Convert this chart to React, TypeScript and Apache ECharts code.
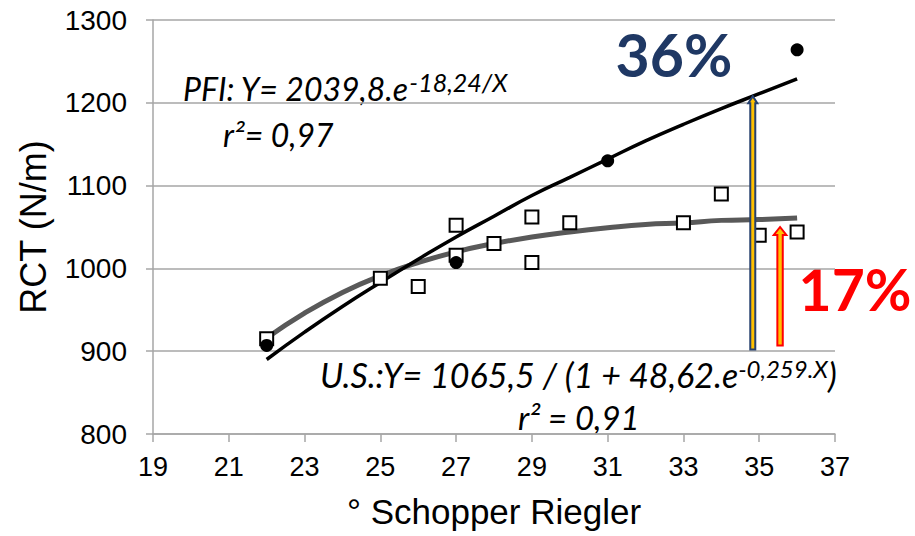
import React, { useEffect, useRef } from "react";
import * as echarts from "echarts";

// PFI measurements (filled circles)
const pfiX = [22, 27, 31, 36];
const pfiY = [907, 1007, 1130, 1264];

// U.S. measurements (open squares)
const usX = [22, 25, 26, 27, 27, 28, 29, 29, 30, 33, 34, 35, 36];
const usY = [915, 988, 978, 1052, 1016, 1030, 1062, 1007, 1055, 1055, 1090, 1040, 1044];

// Trend lines
const fitX = [22, 23, 24, 25, 26, 27, 28, 29, 30, 31, 32, 33, 34, 35, 36];
const pfiFit = [890, 923, 954, 983, 1011, 1038, 1063, 1088, 1110, 1132, 1154, 1174, 1193, 1211, 1229];
const usFit = [916, 946, 971, 991, 1007, 1020, 1030, 1038, 1044, 1049, 1053, 1055, 1058, 1059, 1061];

// Gain arrows
const arrowX = [34.83, 35.55];
const arrowFrom = [902, 907];
const arrowTo = [1208, 1050];
const arrowStroke = ["#26406E", "#FF0000"];
const arrowShaft = [2.5, 2.7];
const arrowHead = [4.5, 6.3];
const arrowHeadLen = [7, 8];

const gainLabels = ["36%", "17%"];

const GRID = "#A6A6A6";
const EQ_FONT = "Lato";

export default function App() {
  const ref = useRef<HTMLDivElement>(null);

  useEffect(() => {
    if (!ref.current) return;
    const chart = echarts.init(ref.current, undefined, { renderer: "svg" });

    const option: any = {
      animation: false,
      backgroundColor: "#ffffff",
      grid: { left: 153, right: 80, top: 20, bottom: 102, containLabel: false },
      xAxis: {
        type: "value",
        min: 19,
        max: 37,
        interval: 2,
        name: "° Schopper Riegler",
        nameLocation: "middle",
        nameGap: 60,
        nameTextStyle: { fontSize: 35, color: "#000", fontFamily: "Liberation Sans" },
        axisLine: { show: true, lineStyle: { color: GRID, width: 1.5 } },
        axisTick: { show: true, length: 8, lineStyle: { color: GRID, width: 1.5 } },
        axisLabel: { fontSize: 27, color: "#000", margin: 19, fontFamily: "Liberation Sans" },
        splitLine: { show: false },
      },
      yAxis: {
        type: "value",
        min: 800,
        max: 1300,
        interval: 100,
        name: "RCT (N/m)",
        nameLocation: "middle",
        nameGap: 102,
        nameTextStyle: { fontSize: 36, color: "#000", fontFamily: "Liberation Sans" },
        axisLine: { show: true, lineStyle: { color: GRID, width: 1.5 } },
        axisTick: { show: true, length: 7, lineStyle: { color: GRID, width: 1.5 } },
        axisLabel: {
          fontSize: 28,
          color: "#000",
          margin: 26,
          fontFamily: "Liberation Sans",
          formatter: (v: number) => String(v),
        },
        splitLine: { show: true, lineStyle: { color: GRID, width: 1.5 } },
      },
      series: [
        {
          type: "line",
          data: fitX.map((x, i) => [x, usFit[i]]),
          smooth: true,
          showSymbol: false,
          lineStyle: { color: "#595959", width: 5 },
          z: 2,
        },
        {
          type: "line",
          data: fitX.map((x, i) => [x, pfiFit[i]]),
          smooth: true,
          showSymbol: false,
          lineStyle: { color: "#000000", width: 3.5 },
          z: 2,
        },
        {
          type: "scatter",
          data: usX.map((x, i) => [x, usY[i]]),
          symbol: "rect",
          symbolSize: 13,
          itemStyle: { color: "#ffffff", borderColor: "#000000", borderWidth: 2, opacity: 1 },
          z: 3,
        },
        {
          type: "scatter",
          data: pfiX.map((x, i) => [x, pfiY[i]]),
          symbol: "circle",
          symbolSize: 13,
          itemStyle: { color: "#000000", opacity: 1 },
          z: 4,
        },
        {
          type: "custom",
          data: arrowX.map((x, i) => [x, arrowFrom[i], arrowTo[i], i]),
          encode: { x: 0, y: [1, 2] },
          clip: false,
          z: 5,
          renderItem: (params: any, api: any) => {
            const x = api.value(0);
            const k = api.value(3);
            const b = api.coord([x, api.value(1)]);
            const t = api.coord([x, api.value(2)]);
            const sw = arrowShaft[k];
            const hw = arrowHead[k];
            const hl = arrowHeadLen[k];
            const cx = b[0];
            const points = [
              [cx - sw, b[1]],
              [cx - sw, t[1] + hl],
              [cx - hw, t[1] + hl],
              [cx, t[1]],
              [cx + hw, t[1] + hl],
              [cx + sw, t[1] + hl],
              [cx + sw, b[1]],
            ];
            return {
              type: "polygon",
              shape: { points },
              style: { fill: "#FFC000", stroke: arrowStroke[k], lineWidth: 2 },
            };
          },
        },
      ],
      graphic: [
        {
          type: "text",
          x: 674,
          y: 54,
          style: {
            text: gainLabels[0],
            fontFamily: EQ_FONT,
            fontWeight: "bold",
            fontSize: 59,
            fill: "#1F3864",
            textAlign: "center",
            textVerticalAlign: "middle",
          },
        },
        {
          type: "text",
          x: 855,
          y: 289,
          style: {
            text: gainLabels[1],
            fontFamily: EQ_FONT,
            fontWeight: "bold",
            fontSize: 57,
            fill: "#FF0000",
            textAlign: "center",
            textVerticalAlign: "middle",
          },
        },
        {
          type: "text",
          x: 183,
          y: 69,
          style: {
            text: "{m|PFI: Y= 2039,8.e}{s|-18,24/X}",
            textAlign: "left",
            textVerticalAlign: "top",
            rich: {
              m: { fontFamily: EQ_FONT, fontStyle: "italic", fontSize: 32, lineHeight: 39, fill: "#000" },
              s: { fontFamily: EQ_FONT, fontStyle: "italic", fontSize: 25, lineHeight: 25, verticalAlign: "top", fill: "#000" },
            },
          },
        },
        {
          type: "text",
          x: 223,
          y: 134,
          style: {
            text: "r²= 0,97",
            fontFamily: EQ_FONT,
            fontStyle: "italic",
            fontSize: 32,
            fill: "#000",
            textAlign: "left",
            textVerticalAlign: "middle",
          },
        },
        {
          type: "text",
          x: 320,
          y: 356,
          style: {
            text: "{m|U.S.:Y= 1065,5 / (1 + 48,62.e}{s|-0,259.X}{m|)}",
            textAlign: "left",
            textVerticalAlign: "top",
            rich: {
              m: { fontFamily: EQ_FONT, fontStyle: "italic", fontSize: 34, lineHeight: 37, fill: "#000" },
              s: { fontFamily: EQ_FONT, fontStyle: "italic", fontSize: 24, lineHeight: 24, verticalAlign: "top", fill: "#000" },
            },
          },
        },
        {
          type: "text",
          x: 518,
          y: 417,
          style: {
            text: "r² = 0,91",
            fontFamily: EQ_FONT,
            fontStyle: "italic",
            fontSize: 33,
            fill: "#000",
            textAlign: "left",
            textVerticalAlign: "middle",
          },
        },
      ],
    };

    chart.setOption(option);
    return () => chart.dispose();
  }, []);

  return (
    <div
      ref={ref}
      style={{ position: "fixed", left: 0, top: 0, width: 915, height: 536, background: "#fff" }}
    />
  );
}
